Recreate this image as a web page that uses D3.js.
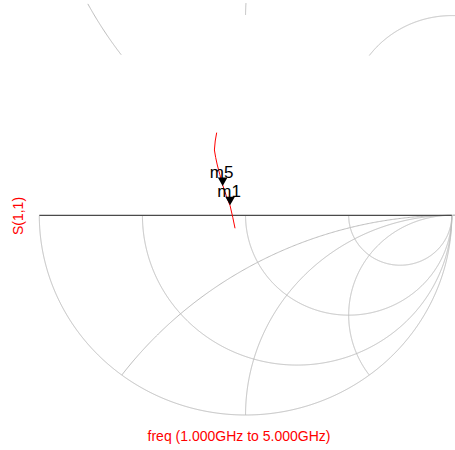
<!DOCTYPE html>
<html><head><meta charset="utf-8">
<script src="https://cdn.jsdelivr.net/npm/d3@7"></script>
<style>html,body{margin:0;padding:0;background:#fff;}svg{display:block;font-family:"Liberation Sans",Arial,sans-serif;}</style>
</head><body>
<svg id="chart" width="455" height="450"></svg>
<script>
// Smith chart grid values
const resistanceCircles = [1/3, 1, 3];
const reactanceArcs = [0.5, 1, 2];
// S(1,1) trace, reflection coefficient (real, imag), 1 GHz -> 5 GHz
const traceRe = [-0.140, -0.147, -0.151, -0.145, -0.137, -0.125, -0.111, -0.094, -0.075, -0.062, -0.051];
const traceIm = [ 0.414,  0.372,  0.327,  0.290,  0.252,  0.205,  0.152,  0.100,  0.048, -0.010, -0.065];
// markers
const markerNames = ["m5", "m1"];
const markerRe = [-0.111, -0.075];
const markerIm = [0.147, 0.050];
const xLabel = "freq (1.000GHz to 5.000GHz)";
const yLabel = "S(1,1)";

const svg = d3.select("#chart");
const x = d3.scaleLinear().domain([-1, 1]).range([39.3, 451.8]);
const y = d3.scaleLinear().domain([-1, 1]).range([415, 15.6]);
const line = d3.line().x(d => x(d[0])).y(d => y(d[1]));

function circleSegments(cx, cy, r, keep) {
  const segs = []; let cur = [];
  const N = 2000;
  for (let i = 0; i <= N; i++) {
    const t = i / N * 2 * Math.PI;
    const p = [cx + r * Math.cos(t), cy + r * Math.sin(t)];
    if (keep(p)) cur.push(p);
    else { if (cur.length > 1) segs.push(cur); cur = []; }
  }
  if (cur.length > 1) segs.push(cur);
  if (segs.length > 1) {
    const first = segs[0], last = segs[segs.length - 1];
    const a = first[0], b = last[last.length - 1];
    if (Math.abs(a[0] - b[0]) < 1e-3 && Math.abs(a[1] - b[1]) < 1e-3) {
      segs[0] = last.concat(first); segs.pop();
    }
  }
  return segs;
}
const inside = p => p[0] * p[0] + p[1] * p[1] <= 1 + 1e-9;
const grid = svg.append("g").attr("fill", "none").attr("stroke", "#bdbdbd").attr("stroke-width", 1);

// outer circle, lower half
circleSegments(0, 0, 1, p => p[1] <= 0).forEach(s => grid.append("path").attr("d", line(s)));
// resistance circles, lower half
resistanceCircles.forEach(r => {
  circleSegments(r / (1 + r), 0, 1 / (1 + r), p => p[1] <= 0)
    .forEach(s => grid.append("path").attr("d", line(s)));
});
// negative reactance arcs inside the chart
reactanceArcs.forEach(v => {
  circleSegments(1, -1 / v, 1 / v, p => p[1] <= 0 && inside(p))
    .forEach(s => grid.append("path").attr("d", line(s)));
});
// positive reactance arcs outside the chart (upper part)
reactanceArcs.forEach(v => {
  circleSegments(1, 1 / v, 1 / v, p => p[1] >= 0 && !inside(p) && y(p[1]) >= 3 && x(p[0]) <= 456)
    .forEach(s => grid.append("path").attr("d", line(s)));
});

// real axis
svg.append("line").attr("x1", x(-1)).attr("x2", x(1)).attr("y1", y(0)).attr("y2", y(0))
  .attr("stroke", "#4a4a4a").attr("stroke-width", 1.3);

// trace
const pts = traceRe.map((v, i) => [v, traceIm[i]]);
svg.append("path").attr("d", line(pts)).attr("fill", "none").attr("stroke", "#ff0000").attr("stroke-width", 1);

// markers
markerNames.forEach((m, i) => {
  const px = x(markerRe[i]), py = y(markerIm[i]);
  svg.append("path").attr("d", `M${px},${py} L${px - 4.8},${py - 8.5} L${px + 4.8},${py - 8.5} Z`).attr("fill", "#000");
  svg.append("text").attr("x", px - 1).attr("y", py - 8).attr("text-anchor", "middle")
    .attr("font-size", 17).attr("fill", "#000").text(m);
});

// axis labels
svg.append("text").attr("x", 239).attr("y", 441).attr("text-anchor", "middle")
  .attr("font-size", 14).attr("fill", "#ff0000").text(xLabel);
svg.append("text").attr("transform", "translate(23,216) rotate(-90)").attr("text-anchor", "middle")
  .attr("font-size", 14).attr("fill", "#ff0000").text(yLabel);
</script>
</body></html>
